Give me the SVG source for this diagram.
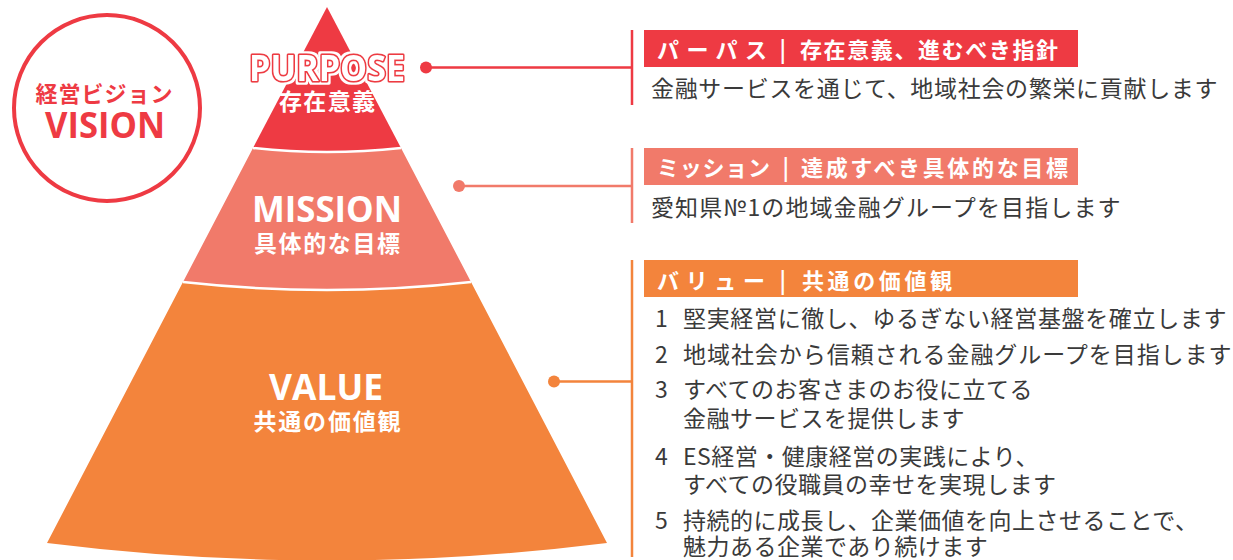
<svg xmlns="http://www.w3.org/2000/svg" width="1233" height="560" viewBox="0 0 1233 560">
<style>
.en{font-family:"Open Sans","Noto Sans","Liberation Sans",sans-serif;font-weight:700;}
.jp{font-family:"Noto Sans CJK JP","Noto Sans",sans-serif;}
.jpb{font-family:"Noto Sans CJK JP","Noto Sans",sans-serif;font-weight:700;}
.w{fill:#fff;}
.body{fill:#3a3a3a;font-size:23px;letter-spacing:0.5px;}
.hd{fill:#fff;font-size:22px;}
.sep{fill:none;stroke:#fff;stroke-width:2.5;}
</style>
<defs>
<filter id="halo" x="-10%" y="-30%" width="120%" height="160%">
<feMorphology in="SourceAlpha" operator="dilate" radius="1.8" result="d"/>
<feFlood flood-color="#ffffff"/>
<feComposite in2="d" operator="in" result="wh"/>
<feMerge><feMergeNode in="wh"/><feMergeNode in="SourceGraphic"/></feMerge>
</filter>
</defs>
<rect width="1233" height="560" fill="#fff"/>

<g id="vision">
<circle cx="107" cy="108" r="93" fill="none" stroke="#EE3A43" stroke-width="4"/>
<text class="jpb" x="104" y="102" font-size="22" fill="#EE3A43" text-anchor="middle" textLength="137" lengthAdjust="spacing">経営ビジョン</text>
<text class="en" x="105" y="138" font-size="35" fill="#EE3A43" text-anchor="middle" textLength="120" lengthAdjust="spacingAndGlyphs">VISION</text>
</g>

<g id="value">
<path d="M183,282 Q327,298 471,282 L607,543 Q327,578 47,543 Z" fill="#F3843C"/>
<text class="en w" x="326" y="400" font-size="35" text-anchor="middle" textLength="114" lengthAdjust="spacingAndGlyphs">VALUE</text>
<text class="jpb w" x="327" y="430" font-size="23" text-anchor="middle" textLength="147" lengthAdjust="spacing">共通の価値観</text>
</g>
<g id="mission">
<path d="M253,148 Q327,156 401,148 L471,282 Q327,298 183,282 Z" fill="#F17A6A"/>
<text class="en w" x="327" y="222" font-size="35" text-anchor="middle" textLength="150" lengthAdjust="spacingAndGlyphs">MISSION</text>
<text class="jpb w" x="327" y="252" font-size="23" text-anchor="middle" textLength="146" lengthAdjust="spacing">具体的な目標</text>
</g>
<g id="purpose">
<path d="M327,7 L401,148 Q327,156 253,148 Z" fill="#EE3A43"/>
<text class="en" x="327" y="80.5" font-size="36" fill="#fff" stroke="#EE3A43" stroke-width="3.5" stroke-linejoin="round" paint-order="stroke" filter="url(#halo)" text-anchor="middle" textLength="156" lengthAdjust="spacingAndGlyphs">PURPOSE</text>
<text class="jpb w" x="327" y="110" font-size="23" text-anchor="middle" textLength="96" lengthAdjust="spacing">存在意義</text>
</g>
<g id="separators">
<path class="sep" d="M253,148 Q327,156 401,148"/>
<path class="sep" d="M183,282 Q327,298 471,282"/>
</g>

<g id="connectors" stroke-width="2.5" fill="none">
<path d="M426,67.5 H632 M632,30 V105" stroke="#EE3A43"/>
<circle cx="426" cy="67.5" r="6" fill="#EE3A43" stroke="none"/>
<path d="M459,186 H632 M632,148 V223" stroke="#F17A6A"/>
<circle cx="459" cy="186" r="6" fill="#F17A6A" stroke="none"/>
<path d="M554,381.5 H632 M632,260 V557" stroke="#F3843C"/>
<circle cx="554" cy="381.5" r="6" fill="#F3843C" stroke="none"/>
</g>

<g id="purpose-desc">
<rect x="644" y="30" width="434" height="37" fill="#EE3A43"/>
<text class="jpb hd" y="58"><tspan x="657" textLength="110" lengthAdjust="spacing">パーパス</tspan><tspan x="779.5">|</tspan><tspan x="800" textLength="258" lengthAdjust="spacing">存在意義、進むべき指針</tspan></text>
<text class="jp body" x="651" y="97" textLength="567" lengthAdjust="spacing">金融サービスを通じて、地域社会の繁栄に貢献します</text>
</g>

<g id="mission-desc">
<rect x="644" y="148" width="434" height="37" fill="#F17A6A"/>
<text class="jpb hd" y="176"><tspan x="657" textLength="113" lengthAdjust="spacing">ミッション</tspan><tspan x="782.5">|</tspan><tspan x="801" textLength="267" lengthAdjust="spacing">達成すべき具体的な目標</tspan></text>
<text class="jp body" x="651" y="216" textLength="470" lengthAdjust="spacing">愛知県№1の地域金融グループを目指します</text>
</g>

<g id="value-desc">
<rect x="644" y="260" width="434" height="37" fill="#F3843C"/>
<text class="jpb hd" y="288.5"><tspan x="657" textLength="108" lengthAdjust="spacing">バリュー</tspan><tspan x="779.5">|</tspan><tspan x="802" textLength="150" lengthAdjust="spacing">共通の価値観</tspan></text>
<text class="jp body" y="327"><tspan x="655">1</tspan><tspan x="683" textLength="544" lengthAdjust="spacing">堅実経営に徹し、ゆるぎない経営基盤を確立します</tspan></text>
<text class="jp body" y="363"><tspan x="655">2</tspan><tspan x="683" textLength="549" lengthAdjust="spacing">地域社会から信頼される金融グループを目指します</tspan></text>
<text class="jp body" y="398"><tspan x="655">3</tspan><tspan x="683">すべてのお客さまのお役に立てる</tspan><tspan x="683" y="427">金融サービスを提供します</tspan></text>
<text class="jp body" y="465"><tspan x="655">4</tspan><tspan x="683">ES経営・健康経営の実践により、</tspan><tspan x="683" y="493">すべての役職員の幸せを実現します</tspan></text>
<text class="jp body" y="529"><tspan x="655">5</tspan><tspan x="683">持続的に成長し、企業価値を向上させることで、</tspan><tspan x="683" y="555">魅力ある企業であり続けます</tspan></text>
</g>
</svg>
